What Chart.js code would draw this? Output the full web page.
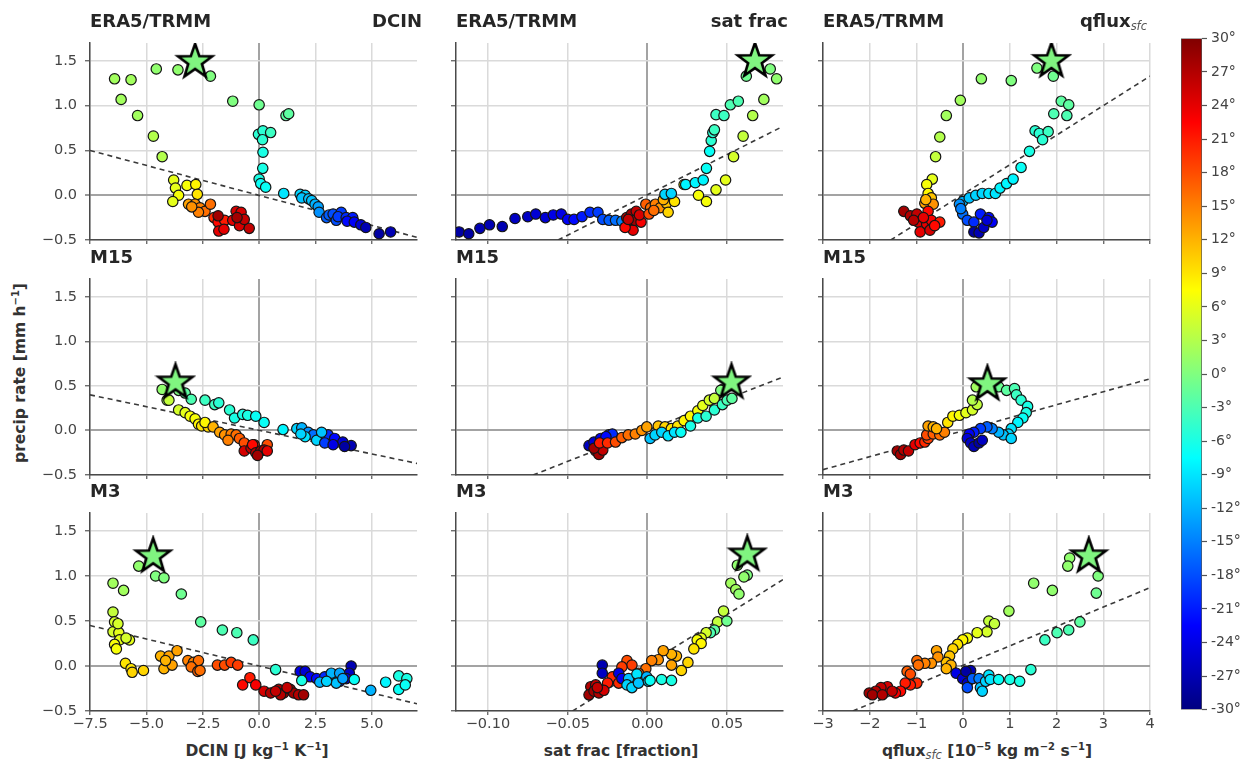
<!DOCTYPE html>
<html>
<head>
<meta charset="utf-8">
<script src="https://cdn.jsdelivr.net/npm/chart.js@4.4.1/dist/chart.umd.min.js"></script>
<style>
  body { margin: 0; background: #fff; width: 1256px; height: 764px; position: relative; overflow: hidden;
         font-family: "DejaVu Sans", sans-serif; }
  canvas { position: absolute; }
  .ttl { position: absolute; font-weight: bold; font-size: 18px; line-height: 20px; color: #262626; white-space: nowrap; }
  .axl { position: absolute; font-weight: bold; font-size: 15.5px; color: #333; white-space: nowrap;
         transform: translate(-50%, -50%); }
  sup { font-size: 10px; vertical-align: 6px; line-height: 0; }
  .sfc { font-style: italic; font-weight: normal; font-size: 11.5px; vertical-align: -3px; line-height: 0; color: #555; }
</style>
</head>
<body>

<div class="axl" style="left:20px;top:373px;transform:translate(-50%,-50%) rotate(-90deg)">precip rate [mm h<sup>−1</sup>]</div>
<div class="axl" style="left:257px;top:751px">DCIN [J kg<sup>−1</sup> K<sup>−1</sup>]</div>
<div class="axl" style="left:621px;top:751px">sat frac [fraction]</div>
<div class="axl" style="left:987px;top:751px">qflux<span class="sfc">sfc</span> [10<sup>−5</sup> kg m<sup>−2</sup> s<sup>−1</sup>]</div>

<script>
// --- Panel labels ---
const rowNames = ['ERA5/TRMM', 'M15', 'M3'];
const varNames = ['DCIN', 'sat frac', 'qflux<span class="sfc">sfc</span>'];

// --- Axis ranges (x per column, y shared) ---
const xMins = [-7.5, -0.12, -3];
const xMaxs = [7.0, 0.085, 4];
const xSteps = [2.5, 0.05, 1];
const xDecimals = [1, 2, 0];
const yMin = -0.5, yMax = 1.7, yStep = 0.5;
const cbarMin = -30, cbarMax = 30, cbarStep = 3;

// --- Points: [x, precip rate, latitude] ---
const eraDcin = [
  [-6.41,1.30,2],[-5.68,1.29,2],[-6.12,1.07,2],[-5.39,0.89,2],[-4.56,1.41,1],[-3.60,1.40,1],[-4.69,0.66,3],
  [-4.30,0.43,3],[-2.16,1.33,0],[-1.17,1.05,0],[0.0,1.01,-1],[1.19,0.89,-2],[1.31,0.91,-2],
  [-0.03,0.68,-5],[0.17,0.72,-5],[0.51,0.70,-4],[0.15,0.62,-5],[0.17,0.48,-6],[0.16,0.30,-6],[0.0,0.18,-6],
  [0.07,0.13,-7],[0.29,0.09,-7],[1.09,0.02,-9],
  [1.82,0.01,-10],[2.04,0.0,-10],[1.89,-0.03,-11],[2.2,-0.04,-11],[2.33,-0.06,-11],[2.48,-0.10,-12],[2.62,-0.13,-13],
  [2.66,-0.19,-14],[2.99,-0.25,-17],[3.1,-0.22,-17],[3.28,-0.21,-18],[3.64,-0.19,-19],[3.42,-0.28,-18],[3.5,-0.24,-19],
  [3.86,-0.25,-20],[4.15,-0.25,-21],[3.9,-0.29,-22],[4.22,-0.30,-23],[4.51,-0.33,-25],[4.73,-0.36,-27],[5.32,-0.43,-28],[5.83,-0.41,-27],
  [-3.79,0.17,6],[-3.71,0.08,6],[-3.57,0.0,7],[-3.83,-0.07,6],[-3.20,0.11,7],[-2.81,0.12,8],[-2.74,0.01,9],
  [-3.13,-0.10,13],[-2.84,-0.10,14],[-2.62,-0.14,15],[-2.40,-0.18,16],[-2.69,-0.19,15],[-2.16,-0.10,16],[-2.99,-0.13,14],
  [-2.0,-0.25,20],[-1.82,-0.30,22],[-1.53,-0.28,21],[-1.79,-0.40,24],[-1.56,-0.38,24],[-1.02,-0.18,25],[-0.80,-0.19,25],
  [-1.17,-0.28,24],[-0.87,-0.34,25],[-0.44,-0.37,26],[-0.66,-0.27,26],[-1.82,-0.23,28],[-0.98,-0.25,28]
];
const eraSat = [
  [-0.118,-0.41,-28],[-0.112,-0.43,-28],[-0.105,-0.37,-27],[-0.099,-0.33,-27],[-0.091,-0.35,-27],[-0.083,-0.26,-26],
  [-0.075,-0.24,-26],[-0.070,-0.21,-25],[-0.064,-0.25,-25],[-0.059,-0.22,-24],[-0.054,-0.21,-24],
  [-0.050,-0.27,-23],[-0.046,-0.27,-22],[-0.041,-0.24,-21],[-0.036,-0.19,-20],[-0.031,-0.19,-19],[-0.028,-0.27,-18],
  [-0.024,-0.28,-17],[-0.020,-0.28,-16],[-0.016,-0.29,-15],
  [-0.013,-0.25,27],[-0.010,-0.21,28],[-0.007,-0.18,26],[-0.006,-0.27,27],[-0.011,-0.32,25],[-0.009,-0.39,24],
  [-0.008,-0.28,28],[-0.004,-0.30,23],[-0.014,-0.36,22],[-0.012,-0.27,26],[-0.005,-0.22,25],
  [-0.001,-0.10,17],[0.002,-0.14,16],[0.005,-0.10,15],[0.008,-0.14,14],[0.001,-0.21,18],[0.004,-0.17,16],
  [0.012,-0.09,11],[0.013,-0.19,10],[0.017,-0.07,9],[0.023,0.12,7],[0.010,-0.05,12],
  [0.011,0.01,-10],[0.015,0.02,-10],[0.024,0.12,-8],[0.030,0.14,-8],[0.035,0.17,-8],[0.037,0.30,-7],[0.039,0.49,-7],
  [0.040,0.61,-5],[0.041,0.70,-5],[0.042,0.73,-4],[0.043,0.90,-4],[0.048,0.89,-4],[0.052,1.01,-3],[0.057,1.05,-3],
  [0.062,1.33,-1],[0.077,1.41,0],[0.081,1.30,1],[0.073,1.07,2],[0.066,0.89,3],
  [0.060,0.66,4],[0.054,0.43,5],[0.049,0.17,6],[0.043,0.06,6],[0.037,-0.07,7],[0.032,0.0,7]
];
const eraQflux = [
  [0.39,1.30,1],[1.03,1.28,0],[-0.06,1.06,2],[-0.36,0.89,2],[-0.50,0.65,3],[-0.59,0.43,4],[1.58,1.42,0],[1.93,1.33,-1],
  [-0.66,0.18,6],[-0.78,0.12,7],[-0.75,0.02,8],
  [-0.68,-0.03,11],[-0.82,-0.09,13],[-0.64,-0.10,14],[-0.80,-0.05,12],
  [-1.27,-0.18,28],[-1.13,-0.23,27],[-0.99,-0.21,26],[-0.75,-0.18,22],[-0.96,-0.30,25],[-0.78,-0.32,24],[-0.68,-0.28,23],
  [-0.50,-0.30,21],[-0.92,-0.41,24],[-0.71,-0.39,25],[-0.61,-0.34,22],[-1.06,-0.28,27],[-0.85,-0.25,24],
  [-0.01,-0.07,-12],[0.13,-0.03,-11],[0.27,0.0,-10],[0.41,0.02,-10],[0.55,0.02,-9],[0.69,0.02,-9],[0.79,0.08,-8],
  [0.93,0.13,-8],[1.07,0.18,-8],[1.24,0.31,-7],[1.42,0.49,-6],
  [1.54,0.72,-5],[1.63,0.69,-5],[1.82,0.71,-4],[1.70,0.62,-5],
  [1.94,0.91,-3],[2.22,0.89,-3],[2.10,1.05,-2],[2.26,1.01,-2],
  [-0.08,-0.10,-14],[-0.01,-0.21,-16],[0.09,-0.28,-18],[0.23,-0.30,-20],[0.37,-0.21,-21],[0.55,-0.25,-22],[0.62,-0.30,-23],[-0.05,-0.15,-15],
  [0.23,-0.41,-28],[0.34,-0.42,-27],[0.44,-0.36,-26],[0.51,-0.28,-25]
];
const m15Dcin = [
  [-4.30,0.46,1],[-4.08,0.34,2],[-3.57,0.45,0],[-3.28,0.42,-2],[-3.01,0.35,-3],
  [-2.40,0.34,-4],[-1.97,0.29,-4],[-1.79,0.31,-5],[-1.31,0.23,-5],[-1.09,0.14,-6],[-0.73,0.18,-6],[-0.51,0.17,-6],
  [-0.15,0.16,-7],[0.22,0.09,-7],[1.06,0.01,-8],
  [1.67,0.02,-10],[1.89,0.03,-12],[2.18,-0.02,-14],[2.40,-0.05,-16],[2.77,-0.05,-18],[3.06,-0.05,-20],[3.35,-0.09,-22],
  [3.71,-0.13,-25],[4.08,-0.17,-27],[3.79,-0.18,-28],[2.04,-0.07,-9],[2.55,-0.11,-10],[2.91,-0.14,-19],[3.28,-0.16,-24],
  [1.85,-0.04,-10],[2.77,-0.02,-11],
  [-4.0,0.34,4],[-3.57,0.23,5],[-3.28,0.20,6],[-3.06,0.16,7],[-2.84,0.13,7],[-2.69,0.07,8],[-2.55,0.05,9],[-2.26,0.04,10],[-2.40,0.09,8],
  [-2.04,0.04,12],[-1.75,-0.02,13],[-1.53,-0.05,14],[-1.24,-0.04,15],[-1.02,-0.05,16],[-0.87,-0.09,17],[-1.38,-0.11,15],
  [-0.66,-0.14,18],[-0.22,-0.16,19],[0.36,-0.16,18],
  [-0.66,-0.23,25],[-0.36,-0.20,26],[-0.29,-0.16,22],[-0.15,-0.25,27],[0.07,-0.23,28],[0.22,-0.22,27],[0.36,-0.23,24],[-0.07,-0.28,28]
];
const m15Sat = [
  [-0.0366,-0.17,-26],[-0.0335,-0.13,-25],[-0.0293,-0.09,-23],[-0.0242,-0.05,-21],[-0.022,-0.04,-20],[-0.026,-0.07,-22],
  [-0.0324,-0.23,27],[-0.0304,-0.27,28],[-0.028,-0.22,26],[-0.0335,-0.20,28],
  [-0.030,-0.14,21],[-0.025,-0.14,20],
  [-0.020,-0.13,18],[-0.016,-0.08,17],[-0.012,-0.05,16],[-0.0076,-0.04,15],[-0.0035,0.0,14],[-0.0004,0.04,13],
  [0.0068,0.05,11],[0.011,0.04,10],[0.015,0.02,9],[0.019,0.05,9],[0.023,0.11,8],[0.027,0.16,8],[0.0316,0.22,7],
  [0.0347,0.28,6],[0.0388,0.34,5],[0.042,0.36,4],[0.047,0.46,2],
  [0.0017,-0.09,-11],[0.0048,-0.05,-10],[0.009,-0.02,-10],[0.013,-0.06,-9],[0.017,-0.02,-9],
  [0.021,-0.02,-7],[0.027,0.05,-6],[0.0316,0.14,-6],[0.0368,0.16,-5],[0.042,0.23,-5],[0.047,0.29,-4],[0.050,0.34,-3],[0.053,0.36,-2],
  [0.046,0.45,0]
];
const m15Qflux = [
  [-1.41,-0.23,28],[-1.34,-0.27,28],[-1.27,-0.22,27],[-1.17,-0.23,26],
  [-1.03,-0.16,24],[-0.92,-0.14,22],
  [-0.82,-0.13,20],[-0.75,-0.09,19],[-0.78,-0.05,18],[-0.64,-0.04,17],[-0.50,-0.05,16],[-0.40,-0.02,15],
  [-0.75,0.05,13],[-0.64,0.04,12],[-0.57,0.02,12],
  [-0.33,0.09,9],[-0.22,0.16,8],[-0.08,0.17,7],[0.06,0.20,6],[0.20,0.23,5],[0.30,0.29,4],[0.20,0.34,3],[0.28,0.49,2],
  [0.48,0.51,0],[0.76,0.49,-1],[0.93,0.45,-2],[1.10,0.47,-3],
  [1.14,0.40,-4],[1.24,0.34,-5],[1.38,0.27,-6],[1.35,0.20,-6],[1.28,0.14,-7],[1.17,0.09,-8],
  [1.03,0.02,-9],[0.97,-0.04,-10],[0.86,-0.05,-11],[0.76,-0.02,-12],[1.03,-0.09,-10],
  [0.62,0.02,-15],[0.51,0.04,-17],[0.37,0.02,-19],[0.23,-0.02,-21],
  [0.13,-0.04,-23],[0.09,-0.09,-25],[0.16,-0.14,-26],[0.23,-0.18,-27],[0.34,-0.14,-28],[0.41,-0.11,-26]
];
const m3Dcin = [
  [-5.34,1.11,1],[-4.59,1.00,0],[-4.22,0.98,0],[-3.45,0.80,-1],[-6.48,0.92,2],[-6.01,0.84,2],
  [-2.59,0.49,-2],[-1.63,0.40,-3],[-0.99,0.37,-3],[-0.26,0.29,-4],
  [-6.48,0.60,4],[-6.41,0.49,5],[-6.48,0.38,5],[-6.22,0.37,6],[-6.19,0.29,6],[-6.41,0.24,7],[-6.33,0.19,7],
  [-5.75,0.29,6],[-5.90,0.31,5],[-6.26,0.47,5],
  [-5.93,0.03,9],[-5.68,-0.03,9],[-5.63,-0.07,10],[-5.13,-0.05,10],
  [-4.37,0.11,12],[-4.22,-0.03,12],[-4.0,0.11,13],[-3.86,0.01,13],[-3.64,0.17,13],[-4.15,0.06,12],
  [-3.16,0.06,15],[-2.91,0.04,15],[-2.69,0.06,16],[-3.01,-0.01,16],[-2.72,-0.06,17],[-2.62,-0.05,16],
  [-1.85,0.01,18],[-1.53,0.01,18],[-1.24,0.04,19],[-0.95,0.01,19],
  [-0.73,-0.21,22],[-0.41,-0.13,21],[-0.15,-0.21,23],[0.22,-0.28,25],
  [0.51,-0.30,27],[0.87,-0.26,28],[1.09,-0.30,28],[1.38,-0.26,27],[1.53,-0.30,28],[1.75,-0.32,27],[1.97,-0.32,28],
  [0.95,-0.32,27],[0.73,-0.28,26],[1.24,-0.24,26],
  [0.73,-0.04,-5],
  [1.82,-0.06,-24],[2.04,-0.06,-25],[2.26,-0.12,-23],[2.55,-0.14,-22],[2.91,-0.12,-20],[3.28,-0.14,-18],[3.57,-0.17,-21],
  [4.08,0.0,-27],[4.00,-0.08,-26],[3.86,-0.14,-24],
  [2.69,-0.18,-12],[3.20,-0.08,-12],[3.57,-0.08,-13],[3.42,-0.19,-11],[2.99,-0.17,-10],[3.71,-0.14,-13],
  [1.89,-0.16,-6],[4.22,-0.15,-7],[4.95,-0.27,-12],[5.61,-0.18,-8],[6.19,-0.11,-6],[6.19,-0.26,-7],[6.55,-0.14,-6],[6.48,-0.21,-7]
];
const m3Sat = [
  [0.0564,1.12,1],[0.0626,1.01,0],[0.0605,0.99,1],[0.0523,0.92,2],[0.0554,0.85,2],[0.0574,0.80,1],
  [0.0477,0.61,4],[0.044,0.49,4],[0.0498,0.50,-1],[0.042,0.40,-2],[0.0395,0.37,-3],
  [0.0368,0.37,5],[0.0337,0.31,6],[0.0312,0.29,7],[0.0337,0.25,8],[0.0291,0.19,9],
  [0.0254,0.04,10],[0.0213,-0.05,10],[0.0182,0.11,12],[0.0151,0.13,12],
  [0.0099,0.17,13],[0.0151,0.01,13],[0.0068,0.07,14],[0.0027,0.06,15],[-0.001,-0.03,16],[-0.0056,-0.08,17],
  [-0.0128,0.06,18],[-0.0097,0.01,19],[-0.016,-0.01,19],[-0.022,-0.12,20],[-0.025,-0.19,21],[-0.018,-0.19,20],
  [-0.0355,-0.23,27],[-0.0324,-0.21,26],[-0.0366,-0.32,28],[-0.0335,-0.28,28],[-0.0304,-0.30,27],[-0.0273,-0.27,25],[-0.0314,-0.24,26],
  [-0.0283,0.01,-27],[-0.0283,-0.08,-26],[-0.018,-0.08,-24],[-0.016,-0.14,-23],
  [-0.0118,-0.14,-11],[-0.0128,-0.21,-10],[-0.0097,-0.24,-10],[-0.0066,-0.09,-9],[-0.0056,-0.19,-11],[-0.0004,-0.12,-12],[0.0006,-0.17,-10],
  [0.0089,-0.15,-6],[0.0151,-0.16,-6],[0.0017,-0.16,-7]
];
const m3Qflux = [
  [2.28,1.20,1],[2.24,1.11,1],[2.89,1.00,0],[2.85,0.81,-1],[1.51,0.92,1],[1.91,0.84,1],[0.98,0.61,2],
  [2.50,0.49,-2],[2.26,0.40,-3],[2.01,0.37,-3],[1.75,0.29,-4],
  [0.55,0.50,4],[0.67,0.47,4],[0.51,0.38,5],[0.30,0.37,6],
  [0.09,0.31,7],[-0.01,0.29,8],[-0.12,0.24,9],[-0.22,0.19,10],[-0.29,0.11,11],[-0.36,0.04,11],[-0.26,0.01,12],[-0.36,-0.03,12],
  [-0.57,0.17,13],[-0.54,0.10,14],[-0.68,0.03,14],[-0.82,0.03,15],[-0.99,0.06,16],[-0.96,0.01,16],[-1.20,-0.06,17],[-1.13,-0.09,18],
  [-0.99,-0.19,20],[-1.13,-0.21,21],[-1.24,-0.19,21],[-1.34,-0.28,22],[-1.45,-0.30,23],
  [-1.62,-0.23,25],[-1.76,-0.24,26],[-1.87,-0.28,27],[-2.01,-0.30,28],[-1.94,-0.32,28],[-1.73,-0.32,27],[-1.52,-0.28,26],
  [-0.15,-0.08,-24],[-0.01,-0.14,-25],[0.09,-0.19,-26],[0.16,-0.05,-27],[0.06,-0.06,-28],
  [0.09,-0.24,-18],[0.20,-0.14,-17],[0.34,-0.14,-15],
  [0.37,-0.24,-11],[0.41,-0.28,-10],[0.48,-0.17,-10],[0.55,-0.10,-9],[0.58,-0.15,-9],
  [0.76,-0.15,-7],[1.0,-0.15,-6],[1.21,-0.17,-6],[1.45,-0.04,-5]
];
const panelPoints = [eraDcin, eraSat, eraQflux, m15Dcin, m15Sat, m15Qflux, m3Dcin, m3Sat, m3Qflux];

// --- Star (peak) positions, one per panel ---
const starX = [-2.84, 0.0674, 1.89, -3.71, 0.0527, 0.52, -4.70, 0.0626, 2.69];
const starY = [1.49, 1.50, 1.50, 0.54, 0.54, 0.52, 1.22, 1.24, 1.22];

// --- Regression line end points, one per panel ---
const fitX0 = [-7.5, -0.056, -1.55, -7.5, -0.0717, -3.0, -7.5, -0.0469, -2.36];
const fitY0 = [0.50, -0.50, -0.50, 0.40, -0.50, -0.44, 0.45, -0.50, -0.50];
const fitX1 = [7.0, 0.085, 4.0, 7.0, 0.085, 4.0, 7.0, 0.085, 4.0];
const fitY1 = [-0.47, 0.77, 1.33, -0.37, 0.60, 0.58, -0.42, 0.96, 0.87];

// --- Layout (page pixels of each plot area) ---
const colLeft = [90, 456, 823];
const colWidth = 332;
const rowTop = [36, 272, 506];
const rowBottom = [240, 475, 711];
const padL = 60, padT = 12, padR = 14, padB = 30;

Chart.defaults.font.family = '"DejaVu Sans", sans-serif';
Chart.defaults.color = '#444';

// jet colormap over the latitude range
function jet(v) {
  const t = (v - cbarMin) / (cbarMax - cbarMin);
  const ch = k => Math.round(255 * Math.max(0, Math.min(1, 1.5 - Math.abs(4 * t - k))));
  return `rgb(${ch(3)},${ch(2)},${ch(1)})`;
}

function makeStar(r) {
  const c = document.createElement('canvas');
  const s = Math.ceil(r * 2 + 6);
  c.width = c.height = s;
  const g = c.getContext('2d');
  g.beginPath();
  for (let i = 0; i < 10; i++) {
    const rad = i % 2 ? r * 0.4 : r;
    const a = -Math.PI / 2 + i * Math.PI / 5;
    g.lineTo(s / 2 + rad * Math.cos(a), s / 2 + rad * Math.sin(a));
  }
  g.closePath();
  g.fillStyle = '#80f580';
  g.fill();
  g.lineWidth = 2.6;
  g.lineJoin = 'miter';
  g.strokeStyle = '#000';
  g.stroke();
  return c;
}
const starImg = makeStar(18);

const fmt = (v, d) => (Math.abs(v) < 1e-9 ? 0 : v).toFixed(d).replace('-', '\u2212');
const isZero = c => c.tick && Math.abs(c.tick.value) < 1e-9;

function addText(html, css) {
  const d = document.createElement('div');
  d.className = 'ttl';
  d.innerHTML = html;
  Object.assign(d.style, css);
  document.body.appendChild(d);
}

function makePanel(row, col) {
  const idx = row * 3 + col;
  const pts = panelPoints[idx];
  const areaH = rowBottom[row] - rowTop[row];
  const cv = document.createElement('canvas');
  cv.width = padL + colWidth + padR;
  cv.height = padT + areaH + padB;
  cv.style.left = (colLeft[col] - padL) + 'px';
  cv.style.top = (rowTop[row] - padT) + 'px';
  document.body.appendChild(cv);

  addText(rowNames[row], { left: colLeft[col] + 'px', top: (rowTop[row] - 25) + 'px' });
  if (row === 0) {
    addText(varNames[col], { right: (1256 - colLeft[col] - colWidth + (col === 2 ? 8 : 0)) + 'px', top: (rowTop[row] - 25) + 'px' });
  }

  new Chart(cv, {
    type: 'scatter',
    data: {
      datasets: [
        {
          data: [{ x: starX[idx], y: starY[idx] }],
          pointStyle: starImg,
          pointRadius: 18
        },
        {
          data: pts.map(p => ({ x: p[0], y: p[1] })),
          backgroundColor: pts.map(p => jet(p[2])),
          borderColor: '#151515',
          borderWidth: 1.2,
          pointRadius: 5.2
        },
        {
          type: 'line',
          data: [{ x: fitX0[idx], y: fitY0[idx] }, { x: fitX1[idx], y: fitY1[idx] }],
          borderColor: '#3a3a3a',
          borderWidth: 1.6,
          borderDash: [5, 4],
          pointRadius: 0,
          fill: false
        }
      ]
    },
    options: {
      responsive: false,
      animation: false,
      layout: { padding: { top: padT, right: padR, left: 0, bottom: 0 } },
      plugins: { legend: { display: false }, tooltip: { enabled: false } },
      scales: {
        x: {
          min: xMins[col], max: xMaxs[col],
          afterFit: s => { s.height = padB; },
          border: { color: '#4a4a4a', width: 1.5 },
          grid: {
            color: c => isZero(c) ? '#a3a3a3' : '#dadada',
            lineWidth: c => isZero(c) ? 2 : 1.5,
            tickColor: '#555', tickLength: 4, tickWidth: 1.2
          },
          ticks: {
            display: row === 2,
            stepSize: xSteps[col], includeBounds: false, autoSkip: false, maxRotation: 0,
            padding: 1, color: '#444', font: { size: 14.5 },
            callback: v => fmt(v, xDecimals[col])
          }
        },
        y: {
          min: yMin, max: yMax,
          afterFit: s => { s.width = padL; },
          border: { color: '#4a4a4a', width: 1.5 },
          grid: {
            color: c => isZero(c) ? '#a3a3a3' : '#dadada',
            lineWidth: c => isZero(c) ? 2 : 1.5,
            tickColor: '#555', tickLength: 5, tickWidth: 1.2
          },
          ticks: {
            display: col === 0,
            stepSize: yStep, includeBounds: false, autoSkip: false,
            padding: 8, color: '#444', font: { size: 14.5 },
            callback: v => fmt(v, 1)
          }
        }
      }
    }
  });
}

for (let r = 0; r < 3; r++) for (let c = 0; c < 3; c++) makePanel(r, c);

// --- Colorbar ---
const cb = document.createElement('canvas');
cb.width = 85; cb.height = 696;
cb.style.left = '1171px'; cb.style.top = '26px';
document.body.appendChild(cb);
new Chart(cb, {
  type: 'bar',
  data: {
    labels: [''],
    datasets: [{
      data: [[cbarMin, cbarMax]],
      backgroundColor: ctx => {
        const a = ctx.chart.chartArea;
        if (!a) return 'transparent';
        const g = ctx.chart.ctx.createLinearGradient(0, a.bottom, 0, a.top);
        for (let i = 0; i <= 40; i++) g.addColorStop(i / 40, jet(cbarMin + (cbarMax - cbarMin) * i / 40));
        return g;
      },
      borderColor: '#555',
      borderWidth: 1,
      borderSkipped: false,
      barPercentage: 1,
      categoryPercentage: 1
    }]
  },
  options: {
    responsive: false,
    animation: false,
    layout: { padding: { left: 10, top: 10, right: 0, bottom: 11 } },
    plugins: { legend: { display: false }, tooltip: { enabled: false } },
    scales: {
      x: { display: false },
      y: {
        position: 'right',
        min: cbarMin, max: cbarMax,
        afterFit: s => { s.width = 54; },
        border: { display: false },
        grid: { drawOnChartArea: false, tickColor: '#555', tickLength: 5, tickWidth: 1.2 },
        ticks: { stepSize: cbarStep, autoSkip: false, padding: 4, color: '#444', font: { size: 14 },
                 callback: v => v + '°' }
      }
    }
  }
});
</script>
</body>
</html>
